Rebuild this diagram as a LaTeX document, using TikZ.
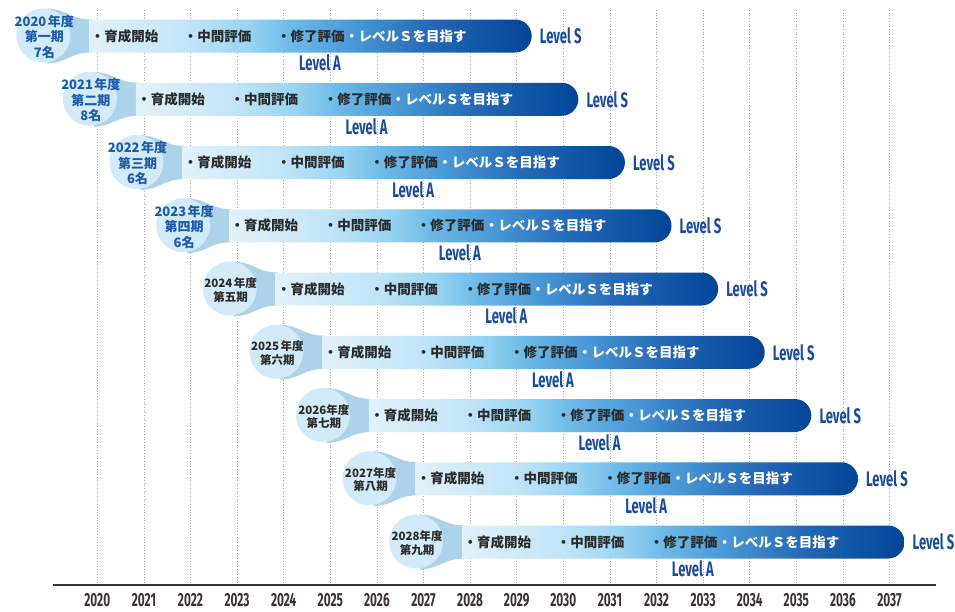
\documentclass[tikz,border=0pt]{standalone}
\usepackage{fontspec}
\newfontfamily\jp{Noto Sans CJK JP}
\newfontfamily\cond[FakeStretch=0.62]{Fira Sans}
\definecolor{circc}{HTML}{D3EAF8}
\definecolor{tailc}{HTML}{ACD3EA}
\definecolor{c0}{HTML}{E2F2FB}
\definecolor{c1}{HTML}{C0E4F7}
\definecolor{c2}{HTML}{98D4F3}
\definecolor{c3}{HTML}{6FBBE8}
\definecolor{c4}{HTML}{4A9AD7}
\definecolor{c5}{HTML}{2468B6}
\definecolor{c6}{HTML}{004596}
\definecolor{lvlc}{HTML}{1A4C9C}
\definecolor{bluetxt}{HTML}{1D5BA9}
\definecolor{darktxt}{HTML}{2B2B2B}
\definecolor{axisc}{HTML}{3A3232}
\definecolor{gridc}{HTML}{A8A8A8}
\pgfdeclarehorizontalshading{barshade}{100bp}{color(0bp)=(c0); color(25bp)=(c0); color(36.5bp)=(c1); color(43bp)=(c2); color(47.5bp)=(c3); color(54.5bp)=(c4); color(63.5bp)=(c5); color(75bp)=(c6); color(100bp)=(c6)}
\tikzset{
  gridline/.style={draw=gridc, line width=0.7pt, dotted},
  axisline/.style={draw=axisc, line width=1.2pt},
  yearlbl/.style={font=\cond\bfseries\fontsize{19}{19}\selectfont, text=axisc, inner sep=0pt},
  bartxt/.style={font=\jp\bfseries\fontsize{13.5}{14}\selectfont, text=darktxt, inner sep=0pt, anchor=west},
  whitetxt/.style={bartxt, text=white},
  lvlS/.style={font=\cond\bfseries\fontsize{21}{21}\selectfont, text=lvlc, inner sep=0pt, anchor=west},
  lvlA/.style={font=\cond\bfseries\fontsize{21}{21}\selectfont, text=lvlc, inner sep=0pt},
  bigcirc/.style={font=\jp\bfseries\fontsize{13}{15.5}\selectfont, text=bluetxt, align=center, inner sep=0pt},
  smallcirc/.style={font=\jp\bfseries\fontsize{11.5}{13.5}\selectfont, text=darktxt, align=center, inner sep=0pt},
}
\newcommand{\cohortrow}[3]{%
  \pgfmathsetmacro\g{97.3+#1*46.6}%
  \pgfmathsetmacro\ry{36+#1*63.25}%
  \pgfmathsetmacro\cx{\g-54}%
  \pgfmathsetmacro\bx{\g-8}%
  \pgfmathsetmacro\ex{\g+9*46.6+15}%
  \fill[tailc] (\cx+4,\ry-27.5) .. controls (\cx+26,\ry-26) and (\g-28,\ry-17) .. (\g-6,\ry-16.5) -- (\g-6,\ry+16.5) .. controls (\g-28,\ry+17) and (\cx+26,\ry+26) .. (\cx+4,\ry+27.5) -- cycle;
  \shade[shading=barshade] (\bx,\ry-16.5) -- (\ex-16.5,\ry-16.5) arc[start angle=-90, end angle=90, radius=16.5] -- (\bx,\ry+16.5) -- cycle;
  \fill[circc] (\cx,\ry-0.5) circle[radius=27];
  \node[#2] (c#1) at (\cx+1,\ry+1) {#3};
  \node[bartxt] (a#1) at (\g-6.75,\ry) {・育成開始};
  \node[bartxt] (m#1) at (\g+2*46.6-6.75,\ry) {・中間評価};
  \node[bartxt] (f#1) at (\g+4*46.6-6.75,\ry) {・修了評価};
  \node[whitetxt] (w#1) at (f#1.east) {・レベルＳを目指す};
  \node[lvlS] (s#1) at (\ex+8,\ry) {Level S};
  \node[lvlA] (l#1) at (\g+4*46.6+36.3,\ry+27) {Level A};
}
\begin{document}
\begin{tikzpicture}[x=1pt,y=-1pt]
\useasboundingbox (0,0) rectangle (955,611);
\foreach \k in {0,...,17}{
  \pgfmathsetmacro\gx{97.3+\k*46.6}
  \pgfmathtruncatemacro\yy{2020+\k}
  \draw[gridline] (\gx,10) -- (\gx,585);
  \node[yearlbl] (y\k) at (\gx,600) {\yy};
}
\draw[axisline] (53,585) -- (936,585);
\cohortrow{0}{bigcirc}{2020\hspace{1.5pt}年度\\第一期\\7名}
\cohortrow{1}{bigcirc}{2021\hspace{1.5pt}年度\\第二期\\8名}
\cohortrow{2}{bigcirc}{2022\hspace{1.5pt}年度\\第三期\\6名}
\cohortrow{3}{bigcirc}{2023\hspace{1.5pt}年度\\第四期\\6名}
\cohortrow{4}{smallcirc}{2024\hspace{1.5pt}年度\\第五期}
\cohortrow{5}{smallcirc}{2025\hspace{1.5pt}年度\\第六期}
\cohortrow{6}{smallcirc}{2026年度\\第七期}
\cohortrow{7}{smallcirc}{2027年度\\第八期}
\cohortrow{8}{smallcirc}{2028年度\\第九期}
\end{tikzpicture}
\end{document}
